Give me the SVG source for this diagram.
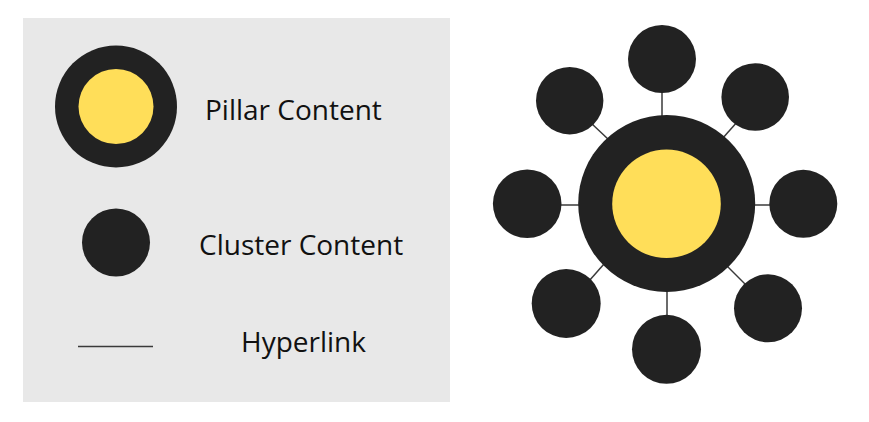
<svg xmlns="http://www.w3.org/2000/svg" width="869" height="422" viewBox="0 0 869 422">
<style>
.dark{fill:#222222}
.yellow{fill:#FFDE59}
.link{stroke:#3a3a3a;stroke-width:1.5;fill:none}
.label{font-family:"Open Sans","Liberation Sans",sans-serif;font-size:28px;fill:#111111}
</style>
<rect width="869" height="422" fill="#ffffff"/>
<g id="legend">
<rect x="23" y="18" width="427" height="384" fill="#E8E8E8"/>
<g id="legend-pillar">
<circle class="dark" cx="116" cy="106.5" r="61"/>
<circle class="yellow" cx="116" cy="106.5" r="37.5"/>
<text class="label" x="205" y="120">Pillar Content</text>
</g>
<g id="legend-cluster">
<circle class="dark" cx="116" cy="242.5" r="34"/>
<text class="label" x="199" y="255">Cluster Content</text>
</g>
<g id="legend-hyperlink">
<line class="link" x1="78" y1="346.5" x2="153" y2="346.5"/>
<text class="label" x="241" y="352">Hyperlink</text>
</g>
</g>
<g id="connectors">
<line class="link" x1="662" y1="90" x2="662" y2="118"/>
<line class="link" x1="591" y1="123" x2="609" y2="140"/>
<line class="link" x1="738" y1="121" x2="722" y2="139"/>
<line class="link" x1="558" y1="205" x2="581" y2="205"/>
<line class="link" x1="752" y1="205" x2="772" y2="205"/>
<line class="link" x1="604" y1="264" x2="589" y2="281"/>
<line class="link" x1="667" y1="289" x2="667" y2="317"/>
<line class="link" x1="726" y1="265" x2="747" y2="286"/>
</g>
<g id="pillar">
<circle class="dark" cx="666.7" cy="203.5" r="88.5"/>
<circle class="yellow" cx="666.5" cy="203.8" r="54.3"/>
</g>
<g id="cluster-top"><circle class="dark" cx="662" cy="59" r="34"/></g>
<g id="cluster-top-left"><circle class="dark" cx="569.7" cy="100.7" r="33.7"/></g>
<g id="cluster-top-right"><circle class="dark" cx="755.2" cy="97" r="33.8"/></g>
<g id="cluster-left"><circle class="dark" cx="527.2" cy="203.8" r="34.3"/></g>
<g id="cluster-right"><circle class="dark" cx="803.3" cy="203.8" r="34"/></g>
<g id="cluster-bottom-left"><circle class="dark" cx="566.2" cy="303.5" r="34.5"/></g>
<g id="cluster-bottom"><circle class="dark" cx="666.5" cy="349.3" r="34.5"/></g>
<g id="cluster-bottom-right"><circle class="dark" cx="768" cy="308.3" r="34"/></g>
</svg>
